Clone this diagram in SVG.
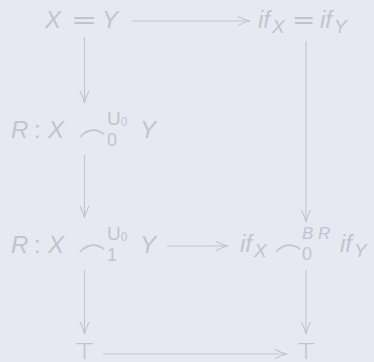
<svg xmlns="http://www.w3.org/2000/svg" width="374" height="362" viewBox="0 0 374 362">
<defs>
<style>
.t{fill:#c3c3ce;font-family:"Liberation Sans",Arial,sans-serif}
.it{font-style:italic;font-size:24px}
.rm{font-size:24px}
.sub{font-style:italic;font-size:19px}
.sup{font-style:italic;font-size:17px}
.sm{font-size:18px}
.u{font-size:19px}
.tiny{font-size:12px}
.eq{font-family:"DejaVu Sans",sans-serif;font-size:25px}
.top{font-family:"DejaVu Sans",sans-serif;font-size:23px}
.ln{stroke:#c3c3ce;stroke-width:1.1;fill:none}
.arc{stroke:#c3c3ce;stroke-width:1.6;fill:none}
</style>
<marker id="ah" markerWidth="16" markerHeight="12" refX="14" refY="6" orient="auto" markerUnits="userSpaceOnUse">
<path d="M2,1.5 Q9,5 14,6 Q9,7 2,10.5" fill="none" stroke="#c3c3ce" stroke-width="1.1"/>
</marker>
</defs>
<rect width="374" height="362" fill="#e8e8f3"/>
<g id="connectors">
<path class="ln" d="M132,21 H250" marker-end="url(#ah)"/>
<path class="ln" d="M84.5,37 V103" marker-end="url(#ah)"/>
<path class="ln" d="M306,41 V222" marker-end="url(#ah)"/>
<path class="ln" d="M84.5,155 V218" marker-end="url(#ah)"/>
<path class="ln" d="M167,246 H228" marker-end="url(#ah)"/>
<path class="ln" d="M84.5,270 V334" marker-end="url(#ah)"/>
<path class="ln" d="M306,270 V334" marker-end="url(#ah)"/>
<path class="ln" d="M103,354 H287" marker-end="url(#ah)"/>
</g>
<g id="n-xeqy" class="t">
<text class="it" x="45" y="28">X</text>
<text class="eq" transform="translate(71,28) scale(1.25,1)">=</text>
<text class="it" x="102" y="28">Y</text>
</g>
<g id="n-ifeq" class="t">
<text class="it" x="258" y="28">if</text>
<text class="sub" x="272" y="33">X</text>
<text class="eq" transform="translate(292,28) scale(1.12,1)">=</text>
<text class="it" x="320" y="28">if</text>
<text class="sub" x="334" y="33">Y</text>
</g>
<g id="n-r0" class="t">
<text class="it" x="11" y="138">R</text>
<text class="rm" x="34" y="138">:</text>
<text class="it" x="48" y="138">X</text>
<path class="arc" d="M80,137 Q91,125 104,134"/>
<text class="u" x="107" y="125">U<tspan class="tiny" dy="1">0</tspan></text>
<text class="sm" x="107" y="146">0</text>
<text class="it" x="140" y="138">Y</text>
</g>
<g id="n-r1" class="t">
<text class="it" x="11" y="253">R</text>
<text class="rm" x="34" y="253">:</text>
<text class="it" x="48" y="253">X</text>
<path class="arc" d="M80,252 Q91,240 104,249"/>
<text class="u" x="107" y="240">U<tspan class="tiny" dy="1">0</tspan></text>
<text class="sm" x="107" y="261">1</text>
<text class="it" x="140" y="253">Y</text>
</g>
<g id="n-ifbr" class="t">
<text class="it" x="240" y="252">if</text>
<text class="sub" x="254" y="257">X</text>
<path class="arc" d="M276,252 Q287,240 300,249"/>
<text class="sup" x="302" y="239">B R</text>
<text class="sm" x="302" y="260">0</text>
<text class="it" x="340" y="252">if</text>
<text class="sub" x="354" y="257">Y</text>
</g>
<g id="n-top1" class="t">
<text class="top" x="84.5" y="359" text-anchor="middle">⊤</text>
</g>
<g id="n-top2" class="t">
<text class="top" x="306" y="359" text-anchor="middle">⊤</text>
</g>
</svg>
